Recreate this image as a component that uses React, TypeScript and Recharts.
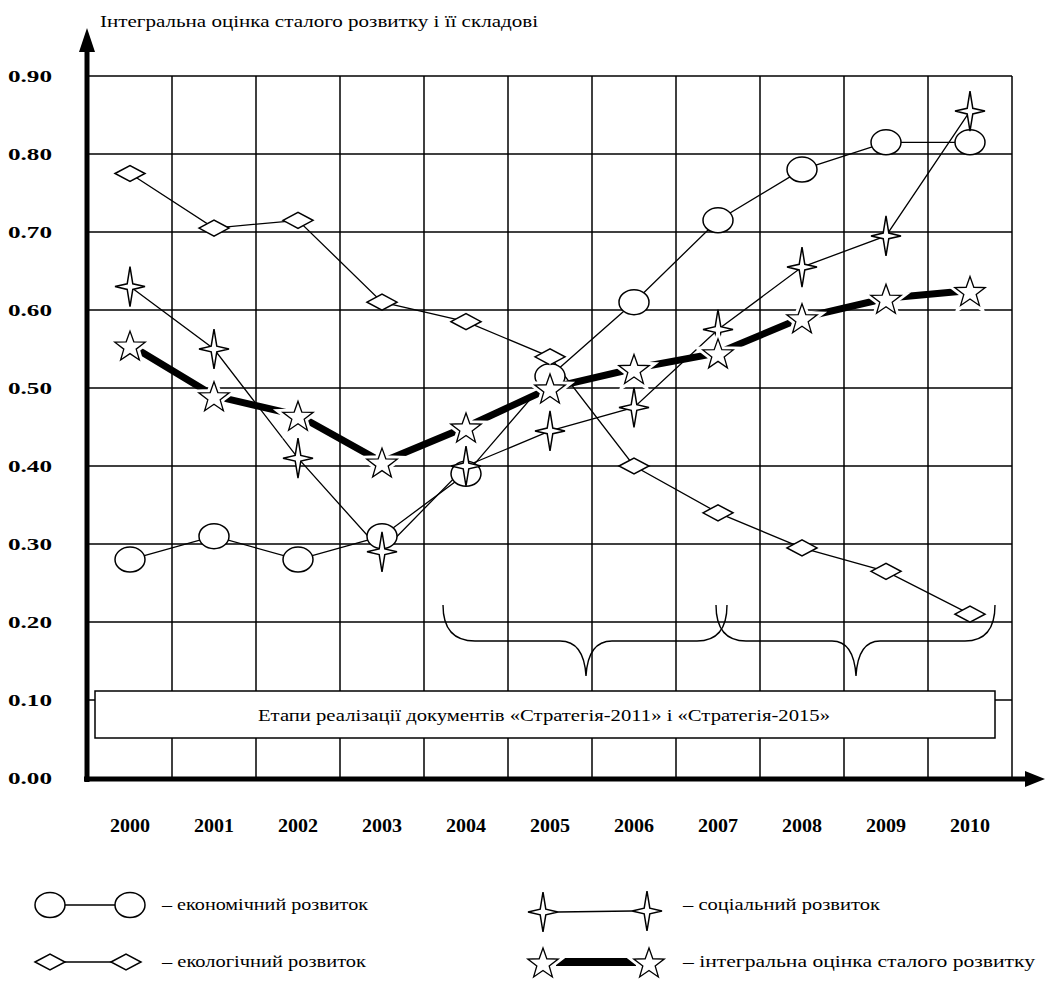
import React from "react";
import {
  LineChart,
  Line,
  XAxis,
  YAxis,
  CartesianGrid,
  ReferenceLine,
} from "recharts";

// years on the horizontal axis
const years = [2000, 2001, 2002, 2003, 2004, 2005, 2006, 2007, 2008, 2009, 2010];
// values
const economic = [0.28, 0.31, 0.28, 0.31, 0.39, 0.515, 0.61, 0.715, 0.78, 0.815, 0.815];
const ecological = [0.775, 0.705, 0.715, 0.61, 0.585, 0.54, 0.4, 0.34, 0.295, 0.265, 0.21];
const social = [0.63, 0.55, 0.41, 0.29, 0.4, 0.445, 0.475, 0.575, 0.655, 0.695, 0.855];
const integral = [0.555, 0.49, 0.465, 0.405, 0.45, 0.5, 0.525, 0.545, 0.59, 0.615, 0.625];
const yTicks = [0, 0.1, 0.2, 0.3, 0.4, 0.5, 0.6, 0.7, 0.8, 0.9];

const W = 1045;
const H = 995;
const FONT =
  '"Liberation Serif", "Times New Roman", Times, Tinos, "Noto Serif", "DejaVu Serif", FreeSerif, serif';

const data = years.map((year, i) => ({
  year,
  economic: economic[i],
  ecological: ecological[i],
  social: social[i],
  integral: integral[i],
}));

// grid lines sit between the years
const yearBorders = years.map((y) => y + 0.5);

const Circle = ({ cx, cy }: { cx: number; cy: number }) => (
  <ellipse cx={cx} cy={cy} rx={15} ry={12.5} fill="#fff" stroke="#000" strokeWidth={1.5} />
);

const Diamond = ({ cx, cy }: { cx: number; cy: number }) => (
  <path
    d={`M${cx - 15},${cy} L${cx},${cy - 8} L${cx + 15},${cy} L${cx},${cy + 8} Z`}
    fill="#fff"
    stroke="#000"
    strokeWidth={1.5}
  />
);

const FourStar = ({ cx, cy }: { cx: number; cy: number }) => {
  const i = 2.8;
  return (
    <path
      d={`M${cx},${cy - 20} L${cx + i},${cy - i} L${cx + 15},${cy} L${cx + i},${cy + i} L${cx},${cy + 20} L${cx - i},${cy + i} L${cx - 15},${cy} L${cx - i},${cy - i} Z`}
      fill="#fff"
      stroke="#000"
      strokeWidth={1.5}
    />
  );
};

const starPath = (cx: number, cy: number, ro: number, ri: number) => {
  let d = "";
  for (let k = 0; k < 10; k++) {
    const r = k % 2 === 0 ? ro : ri;
    const a = (-90 + k * 36) * (Math.PI / 180);
    d += `${k === 0 ? "M" : "L"}${(cx + r * Math.cos(a)).toFixed(2)},${(cy + r * Math.sin(a)).toFixed(2)} `;
  }
  return d + "Z";
};

const FiveStar = ({ cx, cy }: { cx: number; cy: number }) => (
  <g>
    <path d={starPath(cx, cy + 2, 16, 6.5)} fill="#fff" stroke="#fff" strokeWidth={7} />
    <path d={starPath(cx, cy + 2, 16, 6.5)} fill="#fff" stroke="#000" strokeWidth={1.3} />
  </g>
);

const dotOf = (Shape: React.FC<{ cx: number; cy: number }>) => (p: any) => (
  <Shape key={`d-${p.index}`} cx={p.cx} cy={p.cy} />
);

const YTick = (p: any) => (
  <text
    x={8}
    y={p.y}
    dy={6}
    style={{ fontFamily: FONT }}
    fontWeight="bold"
    fontSize={17}
    fill="#000"
    textLength={44}
    lengthAdjust="spacingAndGlyphs"
  >
    {Number(p.payload.value).toFixed(2)}
  </text>
);

const XTick = (p: any) => (
  <text
    x={p.x - 20}
    y={832}
    style={{ fontFamily: FONT }}
    fontWeight="bold"
    fontSize={18}
    fill="#000"
    textLength={40}
    lengthAdjust="spacingAndGlyphs"
  >
    {p.payload.value}
  </text>
);

// text stretched to the width it has in the original figure
const Label = ({ x, y, w, size = 16, children }: { x: number; y: number; w: number; size?: number; children: string }) => (
  <text x={x} y={y} fontSize={size} fill="#000" textLength={w} lengthAdjust="spacingAndGlyphs">
    {children}
  </text>
);

const App: React.FC = () => {
  return (
    <div
      style={{
        position: "absolute",
        left: 0,
        top: 0,
        width: W,
        height: H,
        background: "#fff",
        fontFamily: FONT,
      }}
    >
      <LineChart
        width={W}
        height={H}
        data={data}
        margin={{ top: 76, right: 33, bottom: 187, left: 8 }}
      >
        <CartesianGrid vertical={false} stroke="#000" strokeWidth={1.5} />
        <XAxis
          dataKey="year"
          type="number"
          domain={[1999.5, 2010.5]}
          ticks={years}
          axisLine={false}
          tickLine={false}
          height={30}
          tick={XTick}
        />
        <YAxis
          type="number"
          domain={[0, 0.9]}
          ticks={yTicks}
          axisLine={false}
          tickLine={false}
          width={80}
          tick={YTick}
        />
        {yearBorders.map((x) => (
          <ReferenceLine key={x} x={x} stroke="#000" strokeWidth={1.5} />
        ))}
        <Line
          dataKey="economic"
          stroke="#000"
          strokeWidth={1.3}
          dot={dotOf(Circle)}
          activeDot={false}
          isAnimationActive={false}
        />
        <Line
          dataKey="ecological"
          stroke="#000"
          strokeWidth={1.3}
          dot={dotOf(Diamond)}
          activeDot={false}
          isAnimationActive={false}
        />
        <Line
          dataKey="social"
          stroke="#000"
          strokeWidth={1.3}
          dot={dotOf(FourStar)}
          activeDot={false}
          isAnimationActive={false}
        />
        <Line
          dataKey="integral"
          stroke="#000"
          strokeWidth={7}
          strokeLinecap="butt"
          dot={dotOf(FiveStar)}
          activeDot={false}
          isAnimationActive={false}
        />
      </LineChart>

      {/* axes arrows, braces, caption box and legend */}
      <svg
        width={W}
        height={H}
        style={{ position: "absolute", left: 0, top: 0, pointerEvents: "none", fontFamily: FONT }}
      >
        <Label x={100} y={27} w={438} size={16}>
          Інтегральна оцінка сталого розвитку і її складові
        </Label>

        <line x1={87} y1={782} x2={87} y2={48} stroke="#000" strokeWidth={5} />
        <polygon points="87,28 79,52 95,52" fill="#000" />
        <line x1={84} y1={779} x2={1028} y2={779} stroke="#000" strokeWidth={5} />
        <polygon points="1045,779 1025,771 1025,787" fill="#000" />

        <path
          d="M443,605 Q443,641 475,641 L560,641 Q584,641 586,676 Q588,641 612,641 L697,641 Q727,641 727,605"
          fill="none"
          stroke="#000"
          strokeWidth={1.4}
        />
        <path
          d="M716,605 Q716,641 746,641 L832,641 Q854,641 856,676 Q858,641 880,641 L965,641 Q995,641 995,605"
          fill="none"
          stroke="#000"
          strokeWidth={1.4}
        />

        <rect x={95} y={691} width={900} height={47} fill="#fff" stroke="#000" strokeWidth={1.5} />
        <Label x={258} y={721} w={572} size={16}>
          Етапи реалізації документів «Стратегія-2011» і «Стратегія-2015»
        </Label>

        {/* legend */}
        <line x1={62} y1={905} x2={116} y2={905} stroke="#000" strokeWidth={1.3} />
        <Circle cx={50} cy={905} />
        <Circle cx={130} cy={905} />
        <Label x={162} y={910} w={206}>– економічний розвиток</Label>

        <line x1={558} y1={912} x2={632} y2={911} stroke="#000" strokeWidth={1.3} />
        <FourStar cx={543} cy={912} />
        <FourStar cx={647} cy={911} />
        <Label x={683} y={910} w={197}>– соціальний розвиток</Label>

        <line x1={62} y1={962} x2={112} y2={962} stroke="#000" strokeWidth={1.3} />
        <Diamond cx={50} cy={962} />
        <Diamond cx={126} cy={962} />
        <Label x={162} y={967} w={204}>– екологічний розвиток</Label>

        <line x1={556} y1={962} x2={636} y2={962} stroke="#000" strokeWidth={8} />
        <FiveStar cx={543} cy={962} />
        <FiveStar cx={649} cy={962} />
        <Label x={683} y={967} w={352}>– інтегральна оцінка сталого розвитку</Label>
      </svg>
    </div>
  );
};

export default App;
